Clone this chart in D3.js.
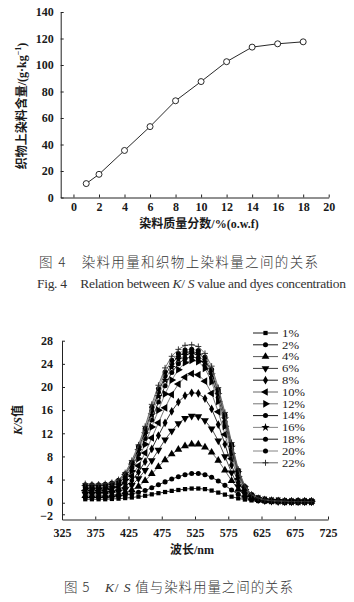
<!DOCTYPE html>
<html><head><meta charset="utf-8">
<script src="https://cdn.jsdelivr.net/npm/d3@7/dist/d3.min.js"></script>
<style>
html,body{margin:0;padding:0;background:#fff;}
svg{display:block;}
</style></head>
<body>
<svg id="c" width="354" height="602"></svg>
<script>
// ---------- Figure 4 data ----------
const dyeConc = [1, 2, 4, 6, 8, 10, 12, 14, 16, 18];
const dyeOnFabric = [10.5, 17.5, 35.5, 53.5, 73, 87.5, 102.5, 113.5, 116, 117.5];
const xTicks1 = [0, 2, 4, 6, 8, 10, 12, 14, 16, 18, 20];
const yTicks1 = [0, 20, 40, 60, 80, 100, 120, 140];

// ---------- Figure 5 data ----------
const wavelengths = [360,370,380,390,400,410,420,430,440,450,460,470,480,490,500,510,520,530,540,550,560,570,580,590,600,610,620,630,640,650,660,670,680,690,700];
const seriesNames = ["1%","2%","4%","6%","8%","10%","12%","14%","16%","18%","20%","22%"];
const ks1  = [0.6,0.6,0.6,0.6,0.65,0.7,0.8,0.9,1.05,1.2,1.45,1.65,1.85,2.05,2.2,2.35,2.45,2.45,2.35,2.1,1.75,1.4,1.05,0.75,0.55,0.4,0.3,0.25,0.2,0.2,0.2,0.2,0.2,0.2,0.2];
const ks2  = [0.9,0.9,0.9,0.9,1.0,1.1,1.3,1.5,1.8,2.1,2.6,3.1,3.6,4.1,4.5,4.85,5.05,5.05,4.85,4.4,3.75,3.0,2.2,1.45,0.9,0.55,0.4,0.3,0.25,0.2,0.2,0.2,0.2,0.2,0.2];
const ks4  = [1.2,1.2,1.2,1.25,1.35,1.5,1.8,2.2,2.8,3.8,5.0,6.2,7.4,8.4,9.2,9.8,10.1,10.1,9.6,8.7,7.3,5.6,3.8,2.3,1.3,0.8,0.5,0.35,0.3,0.25,0.2,0.2,0.2,0.2,0.2];
const ks6  = [1.5,1.5,1.5,1.55,1.7,1.9,2.3,3.0,4.2,5.6,7.3,9.1,10.9,12.4,13.7,14.6,15.0,14.9,14.2,12.8,10.7,8.0,5.2,2.8,1.5,0.9,0.55,0.4,0.3,0.25,0.2,0.2,0.2,0.2,0.2];
const ks8  = [1.8,1.8,1.8,1.85,2.0,2.3,2.8,3.8,5.3,7.1,9.3,11.6,13.8,15.8,17.4,18.5,19.0,18.9,18.0,16.2,13.5,10.1,6.5,3.5,1.8,1.0,0.6,0.45,0.3,0.25,0.2,0.2,0.2,0.2,0.2];
const ks10 = [2.1,2.1,2.1,2.15,2.3,2.7,3.4,4.6,6.4,8.6,11.2,13.8,16.4,18.7,20.5,21.7,22.3,22.1,21.0,18.9,15.7,11.8,7.6,4.1,2.1,1.1,0.7,0.45,0.35,0.3,0.2,0.2,0.2,0.2,0.2];
const ks12 = [2.4,2.4,2.4,2.5,2.7,3.1,4.0,5.5,7.6,10.1,13.1,16.0,18.8,21.2,23.0,24.2,24.6,24.4,23.2,20.9,17.5,13.2,8.5,4.5,2.3,1.2,0.7,0.5,0.35,0.3,0.2,0.2,0.2,0.2,0.2];
const ks14 = [2.6,2.6,2.6,2.7,2.9,3.4,4.4,6.1,8.4,11.1,14.3,17.4,20.2,22.5,24.0,24.9,25.2,25.0,23.8,21.6,18.2,14.0,9.2,5.0,2.5,1.3,0.75,0.5,0.35,0.3,0.2,0.2,0.2,0.2,0.2];
const ks16 = [2.8,2.8,2.8,2.9,3.1,3.6,4.7,6.5,9.0,11.9,15.2,18.4,21.2,23.4,24.8,25.5,25.7,25.5,24.3,22.1,18.7,14.5,9.6,5.2,2.6,1.3,0.75,0.5,0.35,0.3,0.2,0.2,0.2,0.2,0.2];
const ks18 = [3.0,3.0,3.0,3.1,3.3,3.8,4.9,6.8,9.4,12.4,15.9,19.1,21.9,24.0,25.3,26.0,26.1,25.9,24.8,22.6,19.1,14.9,9.9,5.4,2.7,1.35,0.8,0.5,0.35,0.3,0.2,0.2,0.2,0.2,0.2];
const ks20 = [3.1,3.1,3.1,3.2,3.4,3.9,5.0,7.0,9.7,12.8,16.5,19.7,22.6,24.6,25.8,26.4,26.5,26.3,25.2,23.0,19.5,15.2,10.1,5.6,2.8,1.4,0.8,0.5,0.35,0.3,0.2,0.2,0.2,0.2,0.2];
const ks22 = [3.3,3.2,3.2,3.3,3.5,4.0,5.2,7.3,10.0,13.2,17.0,20.3,23.3,25.3,26.5,27.2,27.3,27.0,25.8,23.6,19.9,15.6,10.4,5.8,2.9,1.4,0.8,0.5,0.35,0.3,0.25,0.2,0.2,0.2,0.2];
const xTicks2 = [325, 375, 425, 475, 525, 575, 625, 675, 725];
const yTicks2 = [-2, 0, 4, 8, 12, 16, 20, 24, 28];

const seriesValues = [ks1, ks2, ks4, ks6, ks8, ks10, ks12, ks14, ks16, ks18, ks20, ks22];
const seriesMarkers = ["square","circle","triUp","triDown","diamond","triLeft","triRight","circle","star","circle","circle","plus"];
const seriesLine = ["#000","#000","#444","#222","#000","#555","#666","#000","#777","#000","#777","#555"];

const svg = d3.select("#c");
const serif = "'Liberation Serif','DejaVu Serif',serif";
const cjk = "'Noto Sans CJK SC','Noto Sans',sans-serif";

// ================= Figure 4 =================
const x1 = d3.scaleLinear().domain([-1, 20]).range([60.7, 328.7]);
const y1 = d3.scaleLinear().domain([0, 140]).range([197.5, 12]);

const g1 = svg.append("g");
const ax1 = g1.append("g").attr("transform", `translate(0,${y1(0)})`)
  .call(d3.axisBottom(x1).tickValues(xTicks1).tickSize(-3).tickSizeOuter(0).tickPadding(5));
const ay1 = g1.append("g").attr("transform", `translate(${x1(-1)},0)`)
  .call(d3.axisLeft(y1).tickValues(yTicks1).tickSize(-3).tickSizeOuter(0).tickPadding(7));
[ax1, ay1].forEach(a => {
  a.selectAll("path,line").attr("stroke", "#222").attr("stroke-width", 1);
  a.selectAll("text").attr("font-family", serif).attr("font-size", 12)
    .attr("font-weight", "bold").attr("fill", "#1a1a1a");
});

const line1 = d3.line().x((d, i) => x1(dyeConc[i])).y(d => y1(d));
g1.append("path").datum(dyeOnFabric).attr("d", line1)
  .attr("fill", "none").attr("stroke", "#111").attr("stroke-width", 0.9);
g1.selectAll("circle.p").data(dyeOnFabric).join("circle")
  .attr("cx", (d, i) => x1(dyeConc[i])).attr("cy", d => y1(d)).attr("r", 3)
  .attr("fill", "#fff").attr("stroke", "#111").attr("stroke-width", 0.9);

// axis titles
const yl1 = g1.append("text")
  .attr("transform", `translate(26,106) rotate(-90)`)
  .attr("text-anchor", "middle").attr("font-size", 12).attr("fill", "#1a1a1a")
  .attr("font-family", cjk).attr("font-weight", "bold");
yl1.append("tspan").text("织物上染料含量");
yl1.append("tspan").attr("font-family", serif).text("/(g·kg");
yl1.append("tspan").attr("font-family", serif).attr("font-size", 8).attr("dy", -5).text("−1");
yl1.append("tspan").attr("font-family", serif).attr("dy", 5).text(")");

const xl1 = g1.append("text").attr("x", 199).attr("y", 227.5)
  .attr("text-anchor", "middle").attr("font-size", 12).attr("fill", "#1a1a1a")
  .attr("font-family", cjk).attr("font-weight", "bold");
xl1.append("tspan").text("染料质量分数");
xl1.append("tspan").attr("font-family", serif).text("/%(o.w.f)");

// captions fig 4
svg.append("text").attr("x", 39).attr("y", 267).attr("font-family", cjk)
  .attr("font-size", 13.5).attr("fill", "#333").attr("font-weight", 300)
  .attr("textLength", 279).attr("lengthAdjust", "spacing")
  .text("图 4　染料用量和织物上染料量之间的关系");
const fc = svg.append("text").attr("x", 37).attr("y", 288).attr("font-family", serif)
  .attr("font-size", 13.5).attr("fill", "#333").attr("textLength", 309).attr("lengthAdjust", "spacing");
fc.append("tspan").text("Fig. 4　Relation between ");
fc.append("tspan").attr("font-style", "italic").text("K");
fc.append("tspan").text("/ ");
fc.append("tspan").attr("font-style", "italic").text("S");
fc.append("tspan").text(" value and dyes concentration");

// ================= Figure 5 =================
const x2 = d3.scaleLinear().domain([325, 725]).range([62, 328]);
const y2 = d3.scaleLinear().domain([-2.9, 28]).range([519.5, 340.7]);

const g2 = svg.append("g");
const ax2 = g2.append("g").attr("transform", `translate(0,${y2(-2.9)})`)
  .call(d3.axisBottom(x2).tickValues(xTicks2).tickSize(-3).tickSizeOuter(0).tickPadding(9));
const ay2 = g2.append("g").attr("transform", `translate(${x2(325)},0)`)
  .call(d3.axisLeft(y2).tickValues(yTicks2).tickSize(-3).tickSizeOuter(0).tickPadding(9));
[ax2, ay2].forEach(a => {
  a.selectAll("path,line").attr("stroke", "#222").attr("stroke-width", 1);
  a.selectAll("text").attr("font-family", serif).attr("font-size", 12)
    .attr("font-weight", "bold").attr("fill", "#1a1a1a");
});
ay2.selectAll("text").text(d => d < 0 ? "−" + Math.abs(d) : d)
  .attr("y", d => d < 0 ? 1 : (d === 0 ? -0.9 : 0));

function markerPath(kind) {
  const s = d3.symbol();
  switch (kind) {
    case "square": return { d: s.type(d3.symbolSquare).size(18)(), rot: 0 };
    case "circle": return { d: s.type(d3.symbolCircle).size(20)(), rot: 0 };
    case "triUp": return { d: s.type(d3.symbolTriangle).size(26)(), rot: 0 };
    case "triDown": return { d: s.type(d3.symbolTriangle).size(26)(), rot: 180 };
    case "triLeft": return { d: s.type(d3.symbolTriangle).size(26)(), rot: -90 };
    case "triRight": return { d: s.type(d3.symbolTriangle).size(26)(), rot: 90 };
    case "diamond": return { d: s.type(d3.symbolDiamond).size(22)(), rot: 0 };
    case "star": return { d: s.type(d3.symbolStar).size(22)(), rot: 0 };
    case "plus": return { d: "M-3,0H3M0,-3V3", rot: 0, stroke: true };
  }
}

const line2 = d3.line().x((d, i) => x2(wavelengths[i])).y(d => y2(d));
seriesValues.forEach((vals, si) => {
  const gs = g2.append("g");
  gs.append("path").datum(vals).attr("d", line2).attr("fill", "none")
    .attr("stroke", seriesLine[si]).attr("stroke-width", 0.8);
  const m = markerPath(seriesMarkers[si]);
  gs.selectAll("path.m").data(vals).join("path").attr("class", "m")
    .attr("d", m.d)
    .attr("transform", (d, i) => `translate(${x2(wavelengths[i])},${y2(d)}) rotate(${m.rot})`)
    .attr("fill", m.stroke ? "none" : "#000")
    .attr("stroke", m.stroke ? "#222" : "none").attr("stroke-width", 0.9);
});

// legend
const leg = svg.append("g");
seriesNames.forEach((name, si) => {
  const yy = 333 + si * 11.8;
  leg.append("line").attr("x1", 253).attr("x2", 278).attr("y1", yy).attr("y2", yy)
    .attr("stroke", seriesLine[si]).attr("stroke-width", 0.9);
  const m = markerPath(seriesMarkers[si]);
  leg.append("path").attr("d", m.d)
    .attr("transform", `translate(265.5,${yy}) rotate(${m.rot})`)
    .attr("fill", m.stroke ? "none" : "#000")
    .attr("stroke", m.stroke ? "#222" : "none").attr("stroke-width", 0.9);
  leg.append("text").attr("x", 282).attr("y", yy + 3.8).attr("font-family", serif)
    .attr("font-size", 10.6).attr("fill", "#1a1a1a")
    .attr("textLength", name.length === 2 ? 17 : 23).attr("lengthAdjust", "spacingAndGlyphs")
    .text(name);
});

// axis titles fig 5
const yl2 = g2.append("text").attr("transform", "translate(22,420) rotate(-90)")
  .attr("text-anchor", "middle").attr("font-size", 12).attr("fill", "#1a1a1a")
  .attr("font-family", serif).attr("font-weight", "bold");
yl2.append("tspan").attr("font-style", "italic").text("K/S");
yl2.append("tspan").attr("font-family", cjk).text("值");

const xl2 = g2.append("text").attr("x", 192).attr("y", 553.5)
  .attr("text-anchor", "middle").attr("font-size", 12).attr("fill", "#1a1a1a")
  .attr("font-family", cjk).attr("font-weight", "bold");
xl2.append("tspan").text("波长");
xl2.append("tspan").attr("font-family", serif).text("/nm");

const c5 = svg.append("text").attr("x", 64).attr("y", 592).attr("font-family", cjk)
  .attr("font-size", 13.5).attr("fill", "#333").attr("font-weight", 300)
  .attr("textLength", 229).attr("lengthAdjust", "spacing");
c5.append("tspan").text("图 5　");
c5.append("tspan").attr("font-family", serif).attr("font-style", "italic").text("K");
c5.append("tspan").attr("font-family", serif).text("/ ");
c5.append("tspan").attr("font-family", serif).attr("font-style", "italic").text("S");
c5.append("tspan").text(" 值与染料用量之间的关系");
</script>
</body></html>
